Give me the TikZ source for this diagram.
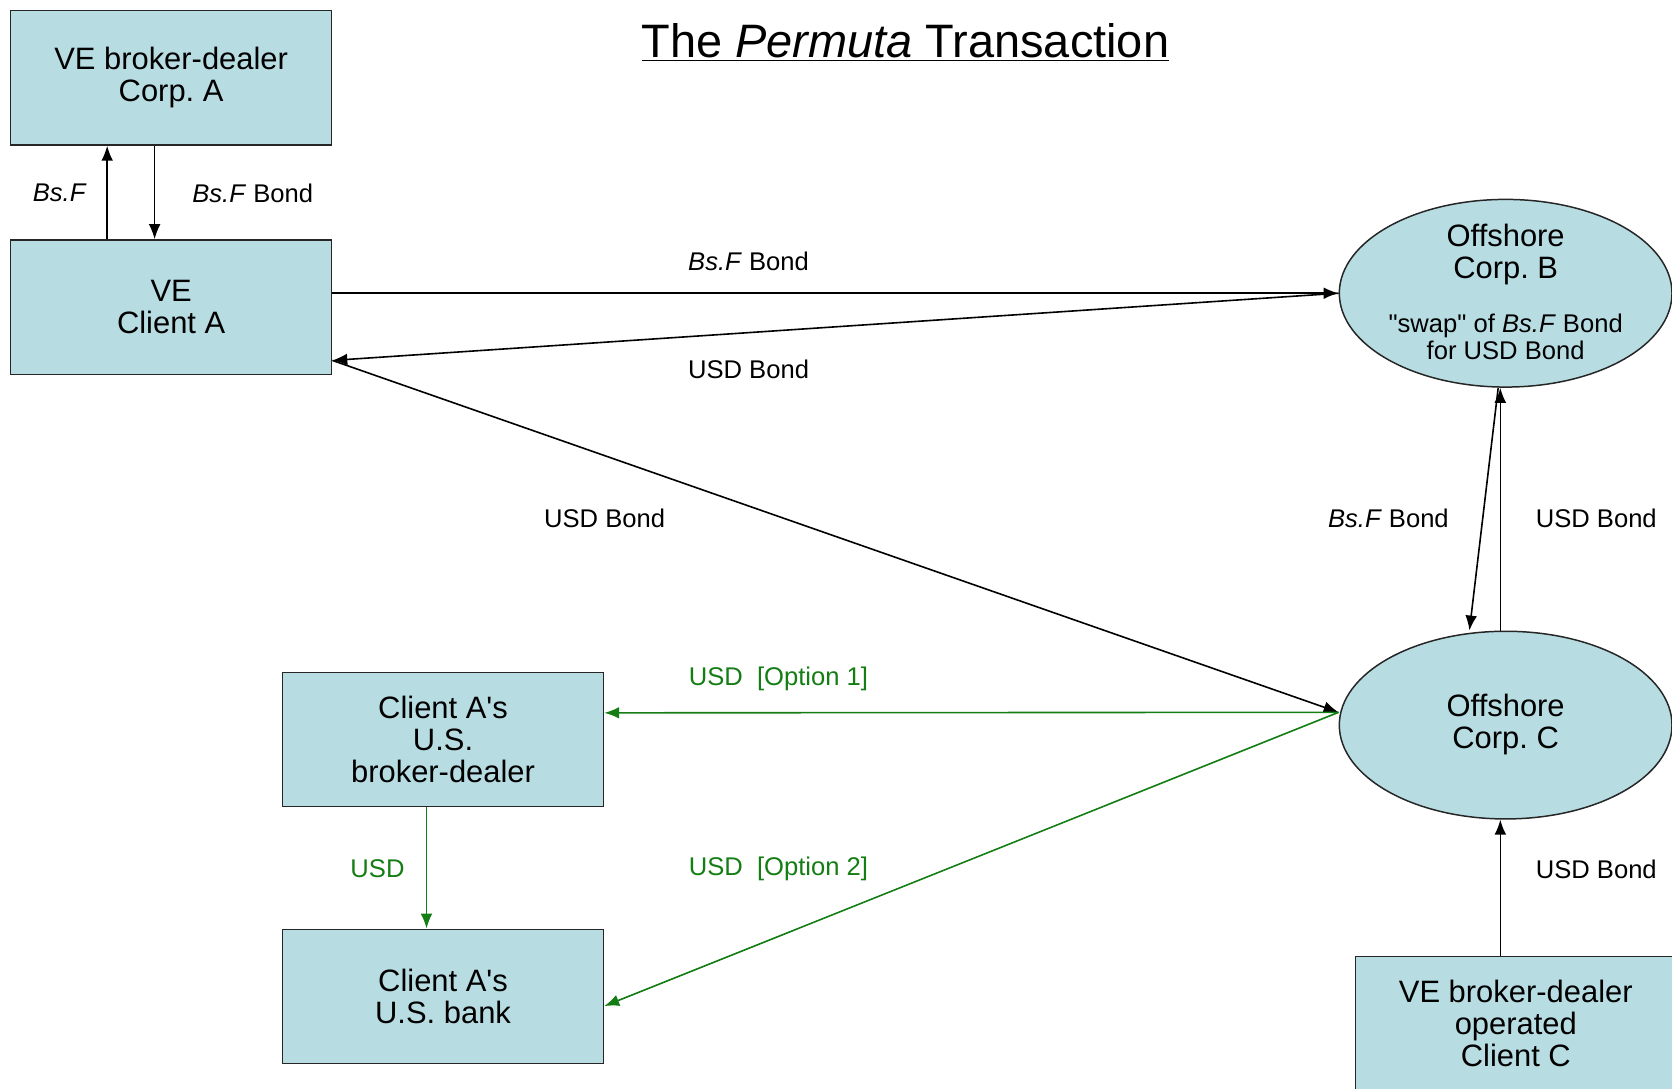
\documentclass[tikz,border=0pt]{standalone}
\usepackage{fontspec}
\setmainfont{Liberation Sans}
\usetikzlibrary{arrows.meta, shapes.geometric}
\definecolor{boxblue}{RGB}{183,221,227}
\definecolor{cashgreen}{RGB}{20,125,20}
\newcommand{\boxfont}{\fontsize{14.5}{15}\selectfont}
\newcommand{\lblfont}{\fontsize{12}{12.5}\selectfont}
\newcommand{\bsf}{\textit{Bs.F}}
\frenchspacing

\begin{document}
\begin{tikzpicture}[x=0.5pt, y=-0.5pt,
  party/.style={rectangle, draw=black!85, fill=boxblue, line width=0.7pt, minimum width=150.5pt, minimum height=63pt, inner sep=0pt, align=center, font=\boxfont},
  offshore/.style={ellipse, draw=black!85, fill=boxblue, line width=0.7pt, minimum width=156pt, minimum height=88pt, inner sep=0pt},
  txt/.style={align=center, font=\boxfont, inner sep=0pt},
  lbl/.style={align=center, font=\lblfont, inner sep=0pt},
  flow/.style={-{Latex[length=7pt, width=5.5pt]}, line width=0.75pt},
  cash/.style={flow, draw=cashgreen}]
\path[use as bounding box] (0,0) rectangle (1568,1021);
\clip (0,0) rectangle (1568,1021);

\node[font=\fontsize{22}{26}\selectfont, inner sep=0pt] (title) at (849,40) {\underline{The \textit{Permuta} Transaction}};

\node[party] (corpA) at (160.5,73) {VE broker-dealer\\Corp. A};
\node[party] (clientA) at (160.5,288) {VE\\Client A};
\node[party] (brokerUS) at (415.5,693.5) {Client A\textquotesingle s\\U.S.\\broker-dealer};
\node[party] (bankUS) at (415.5,934.5) {Client A\textquotesingle s\\U.S. bank};
\node[party] (clientC) at (1421.5,960) {VE broker-dealer\\operated\\Client C};

\node[offshore] (B) at (1412,275) {};
\node[txt] (Bname) at (1412,239) {Offshore\\Corp. B};
\node[lbl] (Bswap) at (1412,316) {\textquotedbl swap\textquotedbl{} of \bsf{} Bond\\for USD Bond};
\node[offshore] (C) at (1412,680) {};
\node[txt] (Cname) at (1412,679) {Offshore\\Corp. C};

% Corp. A and Client A
\draw[flow] ([xshift=-30pt]clientA.north) -- ([xshift=-30pt]corpA.south);
\draw[flow] ([xshift=-7.75pt]corpA.south) -- ([xshift=-7.75pt]clientA.north);
\node[lbl] (l1) at (56,181) {\bsf};
\node[lbl] (l2) at (237,181) {\bsf{} Bond};

% Client A and the offshore corps
\draw[flow] ([yshift=6.5pt]clientA.east) -- (B.west);
\draw[flow] (B.west) -- ([yshift=-25pt]clientA.east);
\draw[flow] ([yshift=-25pt]clientA.east) -- ([yshift=6pt]C.west);
\node[lbl] (l3) at (702,245) {\bsf{} Bond};
\node[lbl] (l4) at (702,346) {USD Bond};
\node[lbl] (l5) at (567,486) {USD Bond};

% B and C
\draw[flow] ([xshift=-3.5pt]B.south) -- ([xshift=-17pt]C.north);
\draw[flow] ([xshift=-2.5pt]C.north) -- ([xshift=-2.5pt]B.south);
\node[lbl] (l6) at (1302,486) {\bsf{} Bond};
\node[lbl] (l7) at (1497,486) {USD Bond};
\draw[flow] ([xshift=-7.25pt]clientC.north) -- ([xshift=-2.5pt]C.south);
\node[lbl] (l8) at (1497,815) {USD Bond};

% USD payments
\draw[cash] ([yshift=6pt]C.west) -- ([yshift=12.5pt]brokerUS.east);
\draw[cash] ([yshift=6pt]C.west) -- ([yshift=-4.5pt]bankUS.east);
\draw[cash] ([xshift=-7.75pt]brokerUS.south) -- ([xshift=-7.75pt]bankUS.north);
\node[lbl, text=cashgreen] (g1) at (730,637) {USD \ [Option 1]};
\node[lbl, text=cashgreen] (g2) at (730,815) {USD \ [Option 2]};
\node[lbl, text=cashgreen] (g3) at (354,815) {USD};
\end{tikzpicture}
\end{document}
